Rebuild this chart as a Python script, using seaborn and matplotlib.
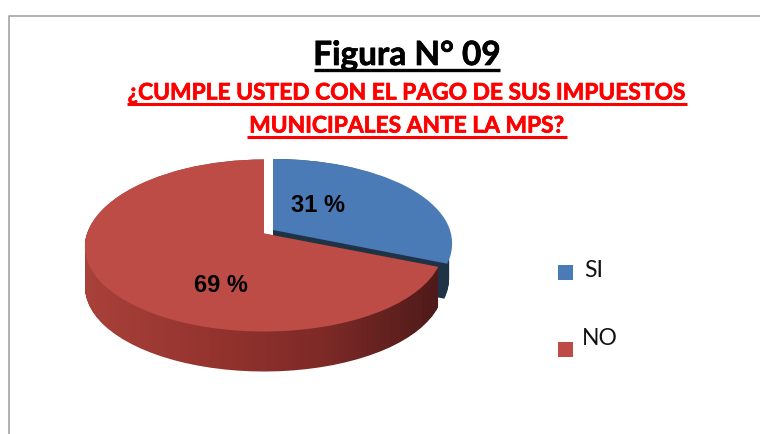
import numpy as np
import matplotlib
matplotlib.use("Agg")
import matplotlib.pyplot as plt
import matplotlib.patheffects as pe
import matplotlib.transforms as mtransforms
from matplotlib.path import Path
from matplotlib.patches import PathPatch, Rectangle
import seaborn as sns

categories = ["SI", "NO"]
values = [31, 69]
value_labels = ["31 %", "69 %"]
fig_title = "Figura N° 09"
subtitle_lines = ["¿CUMPLE USTED CON EL PAGO DE SUS IMPUESTOS", "MUNICIPALES ANTE LA MPS?"]

sns.set_theme(style="white")
plt.rcParams["font.family"] = ["Lato", "DejaVu Sans"]

top_colors = sns.color_palette(["#4a7bb7", "#bd4c47"])
blue_side = "#1f3347"
red_side = sns.blend_palette(["#a8413a", "#96342f", "#7d2a27", "#4d1a1a"], 64)


class PieWarp(mtransforms.Transform):
    # perspective look: apex above the ellipse middle, near side a bit wider
    input_dims = 2
    output_dims = 2

    def __init__(self, cx, cy, c=12, a=177, b=86, k=0.16):
        super().__init__()
        self.cx, self.cy, self.c, self.a, self.b, self.k = cx, cy, c, a, b, k

    def transform_non_affine(self, v):
        v = np.asarray(v)
        return np.column_stack([self.cx + self.a * v[:, 0] * (1 - self.k * v[:, 1]),
                                self.cy - self.b * v[:, 1] + self.c * v[:, 1] ** 2])


fig = plt.figure(figsize=(7.6, 4.35), dpi=100)
ax = fig.add_axes([0, 0, 1, 1])


def wedge_at(i, warp, color, z):
    wedges, _ = ax.pie(values, startangle=90, counterclock=False, colors=top_colors)
    wedges[1 - i].remove()
    wedges[i].set_transform(warp + ax.transData)
    wedges[i].set_facecolor(color)
    wedges[i].set_edgecolor("none")
    wedges[i].set_zorder(z)
    wedges[i].set_clip_on(False)
    return wedges[i]


# side walls
depth = 40
for d in range(depth - 4):
    wedge_at(0, PieWarp(273, 231 + d, c=15, a=174), blue_side, 1)

red_top = wedge_at(1, PieWarp(264, 234.5), top_colors[1], 3)
wall = Path.make_compound_path(*[PieWarp(264, 234.5 + d).transform_path(red_top.get_path())
                                 for d in range(depth + 1)])
grad = ax.imshow(np.array(red_side)[np.newaxis, :, :], extent=(85, 445, 375, 160),
                 aspect="auto", zorder=2)
grad.set_clip_path(PathPatch(wall, transform=ax.transData))

wedge_at(0, PieWarp(273, 231, c=15), top_colors[0], 4)

ax.set_xlim(0, 760)
ax.set_ylim(435, 0)
ax.set_aspect("auto")
ax.axis("off")

# outer frame
ax.plot([8.5, 8.5, 765], [440, 17, 17], color="#a3a3a3", lw=1.2, zorder=1)

# titles, underlines drawn by hand since text has no underline
thick = [pe.withStroke(linewidth=0.5, foreground="black")]
ax.text(407, 66, fig_title, ha="center", va="baseline", fontsize=24,
        fontweight="bold", color="black", path_effects=thick)
ax.plot([314, 500], [71, 71], color="black", lw=2.4, solid_capstyle="butt")

thick_red = [pe.withStroke(linewidth=0.5, foreground="#fe0000")]
ax.text(407, 100.5, subtitle_lines[0], ha="center", va="baseline", fontsize=16.4,
        fontweight="bold", color="#fe0000", path_effects=thick_red)
ax.plot([127, 687], [104.5, 104.5], color="#fe0000", lw=2.2, solid_capstyle="butt")
ax.text(407, 133.5, subtitle_lines[1], ha="center", va="baseline", fontsize=16.4,
        fontweight="bold", color="#fe0000", path_effects=thick_red)
ax.plot([247, 567], [137.5, 137.5], color="#fe0000", lw=2.2, solid_capstyle="butt")

# value labels
for (x, y), lab in zip([(318, 206), (220.5, 286)], value_labels):
    ax.text(x, y, lab, ha="center", va="center", fontsize=17, fontweight="bold",
            family="Liberation Sans", color="black", zorder=6)

# legend
for (x, y, tx, ty), lab, col in zip([(558, 266, 584, 271), (558, 343, 582, 339)],
                                    categories, top_colors):
    ax.add_patch(Rectangle((x, y), 15, 15, facecolor=col, edgecolor="none"))
    ax.text(tx, ty, lab, ha="left", va="center", fontsize=16.5, color="#111111")

fig.savefig("out.png", dpi=100)
